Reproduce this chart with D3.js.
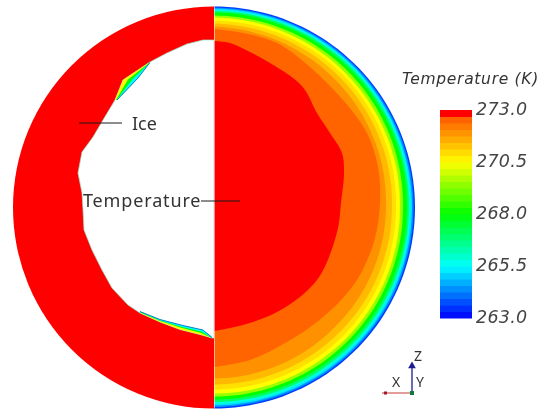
<!DOCTYPE html>
<html><head><meta charset="utf-8">
<script src="https://cdn.jsdelivr.net/npm/d3@7"></script>
<style>html,body{margin:0;padding:0;background:#fff}svg{display:block;filter:blur(.35px)}</style>
</head><body><svg id="c" width="552" height="410"></svg>
<script>
// Temperature colour stops (K)
const colorLevels = [263, 265.5, 268, 270.5, 272.53, 272.7, 273];
const colorStops = ["#0000ff", "#00ffff", "#00ff00", "#ffff00", "#ff6400", "#ff0000", "#ff0000"];
const legendTicks = [263, 265.5, 268, 270.5, 273];
const legendBandCount = 32;
const discRadius = 201;

// Right half: isotherm depth below the wall, read at these polar angles (deg from top)
const ringAngles = [0, 45, 90, 135, 180];
const ringLevels = [263.6, 264.4, 265.2, 265.8, 267, 268, 269.5, 270.5, 270.9, 271.4, 271.95];
const ringDepths = [
  [0, 0, 0, 0, 0],
  [1.2, 1.2, 1.5, 1.5, 1.5],
  [2.2, 2.5, 3, 3, 3],
  [3.5, 3.5, 4.5, 4.5, 4.5],
  [4.5, 5, 6, 6.5, 6.5],
  [6, 7, 8, 9, 9],
  [9, 10, 12, 12, 12],
  [11, 13, 15, 15, 15],
  [14, 16, 19, 19, 19],
  [17, 20, 23, 24, 24],
  [20, 25, 29, 31, 30]
];
const isotherm2725 = [[0,178.5],[29,174.5],[63,164.5],[96,140.5],[129,107.5],[153,74.5],[164,40.5],[166,5],[161,-30.5],[146,-67.5],[129,-90.5],[103,-114.5],[73,-134.5],[36,-152.5],[0,-159.5]];
const isotherm273 = [[0,166.5],[16,164.5],[36,155.5],[56,144.5],[79,129.5],[91,117.5],[103,94.5],[116,74.5],[128,54.5],[130,34.5],[127,4.5],[124,-20.5],[113,-54.5],[103,-72.5],[86,-89.5],[63,-104.5],[39,-114.5],[16,-120.5],[0,-123.5]];

// Left half: the melted cavity and the thin cold slivers on its edge
const cavity = [[0,167.5],[-11,167.5],[-27,163.5],[-47,154.5],[-64,145.5],[-91,127.5],[-99,107.5],[-111,87.5],[-121,70.5],[-132,55.5],[-136,34.5],[-132,14.5],[-131,-2.5],[-130,-22.5],[-122,-42.5],[-112,-62.5],[-102,-80.5],[-86,-97.5],[-74,-105.5],[-54,-114.5],[-34,-122],[-14,-127],[-2,-130.5],[0,-130.5]];
const sliverLevels = [270.6, 268, 265.5];
const upperSliverInner = [[-64,145],[-76,129.5],[-97,107.5]];
const upperSliverLayers = [
  [[-64,145.5],[-91,127.5],[-99,107.5]],
  [[-64,145.3],[-86,128],[-98,107.5]],
  [[-64,145.1],[-81,128.7],[-97.5,107.5]]
];
const lowerSliverInner = [[-74,-104],[-54,-112],[-31,-118],[-11,-122.5],[-2,-130]];
const lowerSliverLayers = [
  [[-74,-105.5],[-54,-114.5],[-34,-122],[-14,-127],[-2,-130.5]],
  [[-74,-105],[-54,-113.5],[-32,-120.5],[-13,-125.5],[-2,-130.5]],
  [[-74,-104.5],[-54,-113],[-32,-119.5],[-12,-124.3],[-2,-130.5]]
];

// Annotations
const iceLeader = [[-135,84.5],[-92,84.5]];
const tempLeader = [[-13,6.5],[26,6.5]];
const sans = "'Noto Sans','Open Sans',sans-serif";
const ital = "'DejaVu Sans',sans-serif";

const svg = d3.select("#c");
const x = d3.scaleLinear().domain([-discRadius, discRadius]).range([13, 415]);
const y = d3.scaleLinear().domain([discRadius, -discRadius]).range([6.5, 408.5]);
const color = d3.scaleLinear().domain(colorLevels).range(colorStops).interpolate(d3.interpolateRgb);
const line = d3.line().x(d => x(d[0])).y(d => y(d[1]));
const smooth = d3.line().x(d => x(d[0])).y(d => y(d[1])).curve(d3.curveCatmullRom.alpha(.5));
const polar = d3.scaleLinear().domain([0, 180]).range([0, Math.PI]);

// Left half disc
svg.append("path")
  .attr("d", d3.arc()({innerRadius: 0, outerRadius: x(discRadius) - x(0), startAngle: -Math.PI, endAngle: 0}))
  .attr("transform", `translate(${x(0)},${y(0)})`).attr("fill", "#ff0000");
svg.append("path").attr("d", line(cavity) + "Z").attr("fill", "#fff").attr("stroke", "#8fe8cc").attr("stroke-width", .7);

function sliver(layers, inner) {
  layers.forEach((outer, i) => {
    svg.append("path").attr("d", line(outer.concat(inner.slice().reverse())) + "Z").attr("fill", color(sliverLevels[i]));
  });
  svg.append("path").attr("d", line(inner)).attr("fill", "none").attr("stroke", "#0060e0").attr("stroke-width", .8);
}
sliver(upperSliverLayers, upperSliverInner);
sliver(lowerSliverLayers, lowerSliverInner);

// Right half disc, painted from the wall inwards. The depth readings are joined
// along true circular arcs by sampling the polar scale at drawing time.
const radial = d3.lineRadial();
const sweep = d3.range(0, 181, 2);
ringDepths.forEach((depths, i) => {
  const depthAt = d3.scaleLinear().domain(ringAngles).range(depths);
  const pts = sweep.map(a => [polar(a), x(discRadius - depthAt(a)) - x(0)]);
  svg.append("path").attr("d", radial(pts) + "Z").attr("transform", `translate(${x(0)},${y(0)})`).attr("fill", color(ringLevels[i]));
});
svg.append("path").attr("d", smooth(isotherm2725) + "Z").attr("fill", "#ff6400");
svg.append("path").attr("d", smooth(isotherm273) + "Z").attr("fill", "#ff0000");
svg.append("line").attr("x1", x(0) + .5).attr("x2", x(0) + .5).attr("y1", y(discRadius)).attr("y2", y(-discRadius)).attr("stroke", "#fff").attr("stroke-opacity", .55);

// Annotations
[iceLeader, tempLeader].forEach(l => svg.append("path").attr("d", line(l)).attr("stroke", "#1a1a1a").attr("stroke-width", 1).attr("fill", "none"));
svg.append("text").attr("x", 132).attr("y", 129.5).attr("font-family", sans).attr("font-size", 18).attr("fill", "#333").text("Ice");
svg.append("text").attr("x", 83).attr("y", 207).attr("font-family", sans).attr("font-size", 18).attr("letter-spacing", .85).attr("fill", "#333").text("Temperature");

// Legend
const legendY = d3.scaleLinear().domain([263, 273]).range([318, 110]);
const bandH = 10 / legendBandCount;
svg.append("g").selectAll("rect").data(d3.range(legendBandCount)).join("rect")
  .attr("x", 440).attr("width", 32)
  .attr("y", i => legendY(263 + (i + 1) * bandH))
  .attr("height", i => legendY(263 + i * bandH) - legendY(263 + (i + 1) * bandH) + .5)
  .attr("fill", i => color(263 + (i + .5) * bandH));
const axis = d3.axisRight(legendY).tickValues(legendTicks).tickFormat(d3.format(".1f")).tickSize(0).tickPadding(4);
const ag = svg.append("g").attr("transform", "translate(472,-1)").call(axis);
ag.select(".domain").remove();
ag.selectAll("text").attr("font-family", ital).attr("font-style", "italic").attr("font-size", 17.5).attr("fill", "#444").attr("letter-spacing", .25);
svg.append("text").attr("x", 402).attr("y", 84).attr("font-family", ital).attr("font-style", "italic").attr("font-size", 15.5).attr("fill", "#333").attr("letter-spacing", .7).text("Temperature (K)");

// Orientation triad
const tri = {o: [412, 393], xEnd: 382, zEnd: 363};
svg.append("line").attr("x1", tri.o[0]).attr("x2", tri.xEnd).attr("y1", tri.o[1]).attr("y2", tri.o[1]).attr("stroke", "#c83a3a").attr("stroke-width", 1);
svg.append("line").attr("x1", tri.o[0]).attr("x2", tri.o[0]).attr("y1", tri.o[1]).attr("y2", tri.zEnd + 3).attr("stroke", "#1c1c90").attr("stroke-width", 1.3);
svg.append("path").attr("d", d3.symbol(d3.symbolTriangle, 26)()).attr("transform", `translate(${tri.o[0]},${tri.zEnd + 3})`).attr("fill", "#1c1c90");
svg.append("rect").attr("x", tri.o[0] - 2).attr("y", tri.o[1] - 2).attr("width", 4).attr("height", 4).attr("fill", "#0d7a3a");
svg.append("rect").attr("x", 384).attr("y", tri.o[1] - 1.5).attr("width", 3).attr("height", 3).attr("fill", "#a01828");
[["X", 396, 387], ["Y", 420, 387], ["Z", 418, 361]].forEach(t =>
  svg.append("text").attr("x", t[1]).attr("y", t[2]).attr("text-anchor", "middle").attr("font-family", sans).attr("font-size", 14).attr("fill", "#333").text(t[0]));
</script></body></html>
